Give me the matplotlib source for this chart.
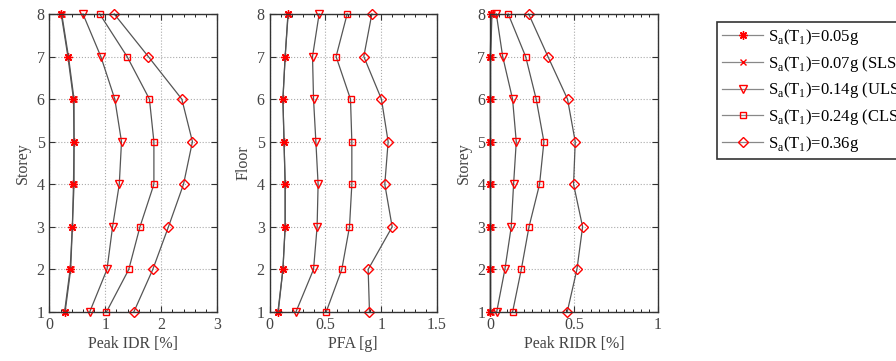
import matplotlib
matplotlib.use("Agg")
import matplotlib.pyplot as plt
from matplotlib.ticker import MultipleLocator

plt.rcParams['font.family'] = ['Liberation Serif', 'DejaVu Serif']
plt.rcParams['mathtext.fontset'] = 'custom'
plt.rcParams['mathtext.rm'] = 'Liberation Serif'

storeys = [1, 2, 3, 4, 5, 6, 7, 8]

labels = [r'S$_{\rm a}$(T$_{\rm 1}$)=0.05g',
          r'S$_{\rm a}$(T$_{\rm 1}$)=0.07g (SLS)',
          r'S$_{\rm a}$(T$_{\rm 1}$)=0.14g (ULS)',
          r'S$_{\rm a}$(T$_{\rm 1}$)=0.24g (CLS)',
          r'S$_{\rm a}$(T$_{\rm 1}$)=0.36g']

# Peak IDR [%], storey 1..8
idr_005 = [0.27, 0.37, 0.41, 0.43, 0.44, 0.43, 0.33, 0.21]
idr_007 = [0.28, 0.38, 0.41, 0.44, 0.44, 0.44, 0.34, 0.22]
idr_014 = [0.72, 1.03, 1.13, 1.25, 1.29, 1.17, 0.92, 0.60]
idr_024 = [1.02, 1.42, 1.62, 1.87, 1.87, 1.79, 1.39, 0.90]
idr_036 = [1.51, 1.85, 2.13, 2.40, 2.56, 2.37, 1.77, 1.16]

# PFA [g], floor 1..8
pfa_005 = [0.075, 0.12, 0.14, 0.14, 0.13, 0.12, 0.14, 0.165]
pfa_007 = [0.078, 0.12, 0.14, 0.14, 0.13, 0.12, 0.14, 0.167]
pfa_014 = [0.236, 0.394, 0.426, 0.435, 0.415, 0.394, 0.385, 0.444]
pfa_024 = [0.507, 0.647, 0.716, 0.737, 0.737, 0.725, 0.596, 0.695]
pfa_036 = [0.895, 0.883, 1.098, 1.032, 1.062, 1.002, 0.844, 0.916]

# Peak RIDR [%], storey 1..8
ridr_005 = [0.0, 0.0, 0.0, 0.0, 0.0, 0.0, 0.0, 0.005]
ridr_007 = [0.002, 0.002, 0.002, 0.002, 0.002, 0.002, 0.002, 0.01]
ridr_014 = [0.038, 0.087, 0.125, 0.139, 0.155, 0.133, 0.074, 0.036]
ridr_024 = [0.133, 0.185, 0.231, 0.294, 0.32, 0.274, 0.211, 0.107]
ridr_036 = [0.459, 0.517, 0.551, 0.497, 0.507, 0.461, 0.344, 0.229]

# asterisk like matlab '*', then x, triangle, square, diamond
markers = [(8, 2, 0), 'x', 'v', 's', 'D']
msizes = [6, 4, 6, 5, 5]
line_col = '#555555'

panels = [
    ([idr_005, idr_007, idr_014, idr_024, idr_036], 'Peak IDR [%]', 'Storey', 3, 1, 0.2),
    ([pfa_005, pfa_007, pfa_014, pfa_024, pfa_036], 'PFA [g]', 'Floor', 1.5, 0.5, 0.1),
    ([ridr_005, ridr_007, ridr_014, ridr_024, ridr_036], 'Peak RIDR [%]', 'Storey', 1, 0.5, 0.05),
]

fig = plt.figure(figsize=(8.96, 3.61), dpi=100)
lefts = [0.0552, 0.3008, 0.5472]
handles = []
for left, (series, xlab, ylab, xmax, major, minor) in zip(lefts, panels):
    ax = fig.add_axes([left, 0.1357, 0.187, 0.8255])
    hs = []
    for vals, m, ms in zip(series, markers, msizes):
        filled = not isinstance(m, str) or m == 'x'
        h, = ax.plot(vals, storeys, color=line_col, lw=0.9, marker=m, ms=ms,
                     mec='red', mfc='red' if filled else 'none', mew=1.0,
                     clip_on=False)
        hs.append(h)
    handles = hs
    ax.set_xlim(0, xmax)
    ax.set_ylim(1, 8)
    ax.xaxis.set_major_locator(MultipleLocator(major))
    ax.xaxis.set_minor_locator(MultipleLocator(minor))
    ax.yaxis.set_major_locator(MultipleLocator(1))
    ax.tick_params(direction='in', top=True, right=True, labelsize=11.5,
                   length=4, width=0.8, colors='#333333', labelcolor='#444444')
    ax.tick_params(which='minor', direction='in', top=True, length=2.5, width=0.6)
    ax.grid(True, linestyle=':', color='#aaaaaa', lw=0.8)
    ax.set_axisbelow(True)
    for sp in ax.spines.values():
        sp.set_color('#333333')
        sp.set_linewidth(1.0)
    ax.set_xlabel(xlab, fontsize=11.5, color='#444444', labelpad=2)
    ax.set_ylabel(ylab, fontsize=11.5, color='#444444', labelpad=4)
    x_labels = ax.get_xticks()
    ax.set_xticks(x_labels)
    ax.set_xticklabels(['%g' % v for v in x_labels])
    ax.set_xlim(0, xmax)

leg = fig.legend(handles, labels, loc='upper left', bbox_to_anchor=(0.800, 0.939),
                 borderaxespad=0, fontsize=12, frameon=True, fancybox=False,
                 edgecolor='black', handlelength=2.5, handletextpad=0.3,
                 labelspacing=0.4, borderpad=0.3)
leg.get_frame().set_linewidth(1.2)
for lh in leg.get_lines():
    lh.set_color('#888888')

fig.savefig('out.png', dpi=100)
